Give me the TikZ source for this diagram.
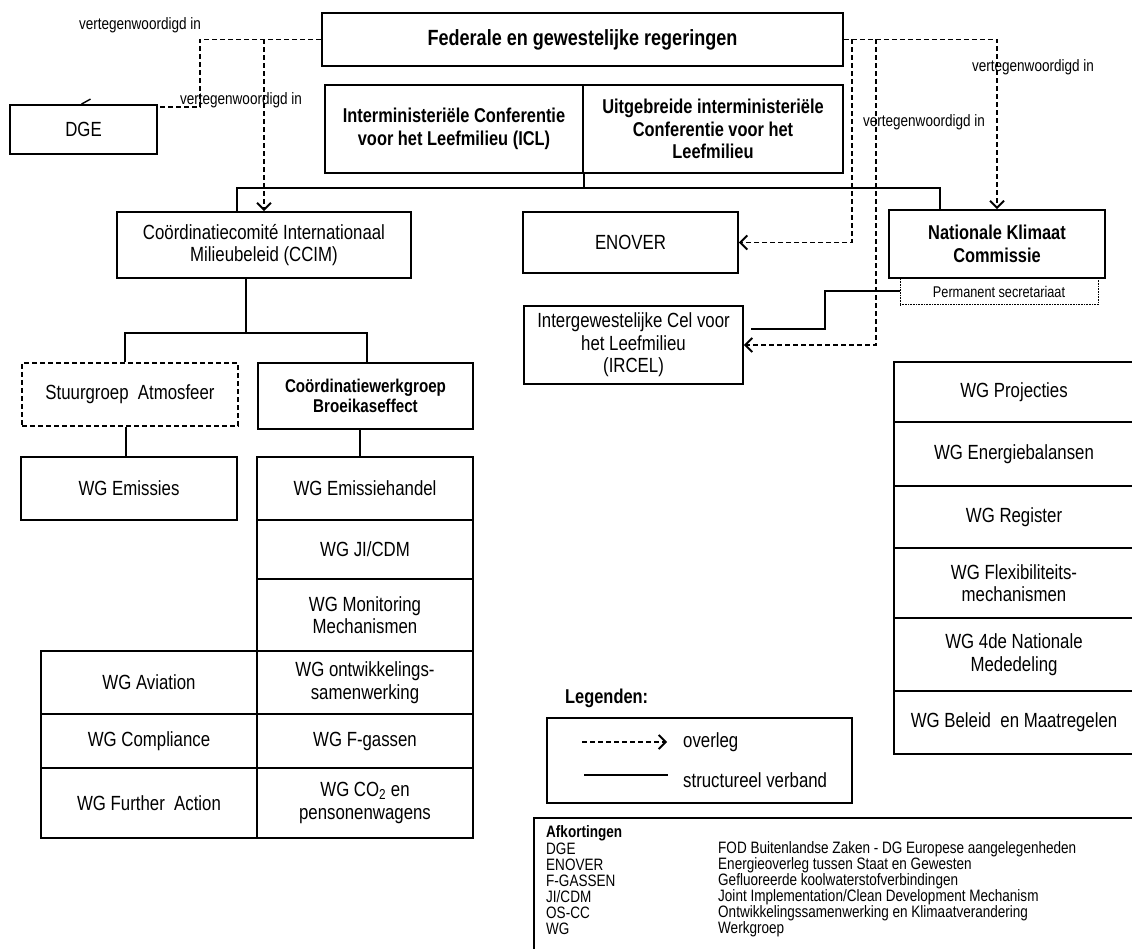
\documentclass[tikz,border=0pt]{standalone}
\usepackage{fontspec}
\setmainfont{Liberation Sans}[FakeStretch=0.82]
\usetikzlibrary{arrows.meta,calc}
\newcommand{\fsz}[2]{\fontsize{#1}{#2}\selectfont}
\newcommand{\bx}[7]{\node[#6, minimum width={(#4-#2)*1pt}, minimum height={(#5-#3)*1pt}] (#1) at ({(#2+#4)/2},{(#3+#5)/2}) {#7};}
\begin{document}
\begin{tikzpicture}[x=1pt,y=-1pt,
  box/.style={draw, line width=1.8pt, inner sep=0pt, align=center, font=\fsz{20.5}{22.5}},
  bbox/.style={box, font=\fsz{20}{22.5}\bfseries},
  dbox/.style={box, dash pattern=on 5pt off 3pt},
  dotbox/.style={box, line width=1pt, dash pattern=on 1pt off 0.6pt, font=\fsz{15.5}{17}},
  dl/.style={line width=1.9pt, dash pattern=on 5pt off 3pt},
  da/.style={dl, -{Straight Barb[length=7pt,width=14pt]}},
  sl/.style={line width=2pt},
  lab/.style={font=\fsz{16.5}{18}, inner sep=0pt},
  ab/.style={font=\fsz{16.5}{18}, inner sep=0pt, anchor=west},
  lt/.style={font=\fsz{20.5}{22.5}, inner sep=0pt, anchor=west}
]
\useasboundingbox (0,0) rectangle (1132,949);

% boxes
\bx{fed}{322}{13}{843}{66}{bbox, font=\fsz{22}{24}\bfseries}{Federale en gewestelijke regeringen}
\bx{icl}{325}{85}{583}{173}{bbox}{Interministeriële Conferentie\\voor het Leefmilieu (ICL)}
\bx{uicl}{583}{85}{843}{173}{bbox}{Uitgebreide interministeriële\\Conferentie voor het\\Leefmilieu}
\bx{dge}{10}{105}{157}{154}{box}{DGE}
\bx{ccim}{117}{212}{411}{278}{box}{Coördinatiecomité Internationaal\\Milieubeleid (CCIM)}
\bx{enover}{523}{212}{738}{273}{box}{ENOVER}
\bx{nkc}{889}{210}{1105}{278}{bbox}{Nationale Klimaat\\Commissie}
\bx{perm}{900}{278}{1098}{305}{dotbox}{Permanent secretariaat}
\bx{ircel}{524}{306}{743}{384}{box}{Intergewestelijke Cel voor\\het Leefmilieu\\(IRCEL)}
\bx{stuur}{22}{363}{238}{426}{dbox}{Stuurgroep\ \ Atmosfeer}
\bx{cwg}{258}{363}{473}{429}{bbox, font=\fsz{18.5}{20.5}\bfseries}{Coördinatiewerkgroep\\Broeikaseffect}
\bx{wgem}{21}{457}{237}{520}{box}{WG Emissies}
% middle stack
\bx{wgeh}{257}{457}{473}{520}{box}{WG Emissiehandel}
\bx{wgji}{257}{520}{473}{579}{box}{WG JI/CDM}
\bx{wgmm}{257}{579}{473}{651}{box}{WG Monitoring\\Mechanismen}
\bx{wgos}{257}{651}{473}{714}{box}{WG ontwikkelings-\\samenwerking}
\bx{wgfg}{257}{714}{473}{768}{box}{WG F-gassen}
\bx{wgco}{257}{768}{473}{838}{box}{WG CO\textsubscript{2} en\\pensonenwagens}
% left stack
\bx{wgav}{41}{651}{257}{714}{box}{WG Aviation}
\bx{wgcp}{41}{714}{257}{768}{box}{WG Compliance}
\bx{wgfa}{41}{768}{257}{838}{box}{WG Further\ \ Action}
% right stack
\bx{wgpr}{894}{362}{1134}{422}{box}{WG Projecties}
\bx{wgeb}{894}{422}{1134}{486}{box}{WG Energiebalansen}
\bx{wgre}{894}{486}{1134}{548}{box}{WG Register}
\bx{wgfl}{894}{548}{1134}{618}{box}{WG Flexibiliteits-\\mechanismen}
\bx{wg4n}{894}{618}{1134}{691}{box}{WG 4de Nationale\\Mededeling}
\bx{wgbm}{894}{691}{1134}{754}{box}{WG Beleid\ \ en Maatregelen}

% small tick on DGE
\draw[line width=1.4pt] ($(dge.north)+(-2,0)$) -- ($(dge.north)+(7,-5)$);

% labels
\node[lab] (lab1) at (140,25) {vertegenwoordigd in};
\node[lab] (lab2) at (241,100) {vertegenwoordigd in};
\node[lab] (lab3) at (1033,67) {vertegenwoordigd in};
\node[lab] (lab4) at (924,122) {vertegenwoordigd in};

% dashed connectors (overleg)
\coordinate (k1) at (200,39.5);
\coordinate (k2) at (264,39.5);
\coordinate (k3) at (852,39.5);
\coordinate (k4) at (876,39.5);
\coordinate (dgeport) at ($(dge.north east)+(0,3)$);
\draw[dl] (fed.west) -- (k1) |- (dgeport);
\draw[da] (k2) -- (k2 |- ccim.north);
\draw[da] (fed.east) -| (nkc.north);
\draw[da] (k3) |- (enover.east);
\draw[da] (k4) |- (ircel.east);

% solid connectors (structureel verband)
\coordinate (h1) at (237,188);
\coordinate (h2) at (940,188);
\draw[sl] (h1 |- ccim.north) -- (h1) -- (h2) -- (h2 |- nkc.north);
\draw[sl] (icl.south east) -- (icl.south east |- h1);
\coordinate (h3) at (246,333);
\coordinate (h4) at (125,333);
\coordinate (h5) at (367,333);
\draw[sl] (h3 |- ccim.south) -- (h3);
\draw[sl] (h4 |- stuur.north) -- (h4) -- (h5) -- (h5 |- cwg.north);
\coordinate (v1) at (126,0);
\coordinate (v2) at (360,0);
\draw[sl] (v1 |- stuur.south) -- (v1 |- wgem.north);
\draw[sl] (v2 |- cwg.south) -- (v2 |- wgeh.north);
\coordinate (k5) at (825,329);
\draw[sl, shorten >=7pt] (perm.west) -| (k5) -- (k5 -| ircel.east);

% legend
\node[anchor=west, inner sep=0pt, font=\fsz{20}{22}\bfseries] (legt) at (565,698) {Legenden:};
\bx{leg}{547}{718}{852}{803}{box}{}
\coordinate (la1) at (582,742);
\coordinate (la2) at (667,742);
\draw[da] (la1) -- (la2);
\node[lt] (lov) at (683,742) {overleg};
\coordinate (lb1) at (584,775);
\coordinate (lb2) at (668,775);
\draw[sl] (lb1) -- (lb2);
\node[lt] (lsv) at (683,780) {structureel verband};

% abbreviations
\bx{abk}{534}{818}{1150}{980}{box}{}
\node[ab, font=\fsz{16.5}{18}\bfseries] (a0) at (546,833) {Afkortingen};
\node[ab] (a1) at (546,849) {DGE};
\node[ab] (b1) at (718,849) {FOD Buitenlandse Zaken - DG Europese aangelegenheden};
\node[ab] (a2) at (546,865) {ENOVER};
\node[ab] (b2) at (718,865) {Energieoverleg tussen Staat en Gewesten};
\node[ab] (a3) at (546,881) {F-GASSEN};
\node[ab] (b3) at (718,881) {Gefluoreerde koolwaterstofverbindingen};
\node[ab] (a4) at (546,897) {JI/CDM};
\node[ab] (b4) at (718,897) {Joint Implementation/Clean Development Mechanism};
\node[ab] (a5) at (546,913) {OS-CC};
\node[ab] (b5) at (718,913) {Ontwikkelingssamenwerking en Klimaatverandering};
\node[ab] (a6) at (546,929) {WG};
\node[ab] (b6) at (718,929) {Werkgroep};
\end{tikzpicture}
\end{document}
